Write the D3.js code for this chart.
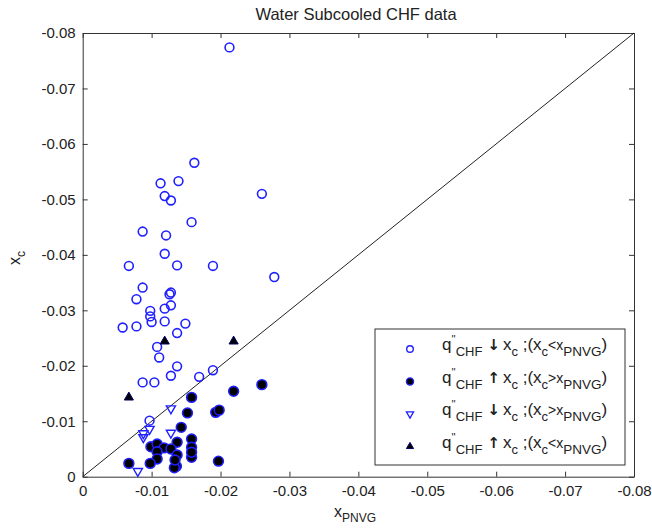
<!DOCTYPE html>
<html>
<head>
<meta charset="utf-8">
<script src="https://cdn.jsdelivr.net/npm/d3@7"></script>
<style>
body { margin:0; background:#fff; }
text { font-family: "Liberation Sans", Arial, sans-serif; fill:#222; }
</style>
</head>
<body>
<script>
// open circles: q"CHF down, xc < xPNVG
var openCircleX = [-0.0213,-0.0162,-0.0139,-0.0113,-0.0260,-0.0119,-0.0128,-0.0158,-0.0087,-0.0121,
                   -0.0119,-0.0067,-0.0137,-0.0189,-0.0278,-0.0087,-0.0128,-0.0126,-0.0078,-0.0128,
                   -0.0119,-0.0098,-0.0098,-0.0100,-0.0119,-0.0058,-0.0078,-0.0149,-0.0137,-0.0108,
                   -0.0111,-0.0137,-0.0128,-0.0169,-0.0189,-0.0087,-0.0104,-0.0097];
var openCircleY = [-0.0774,-0.0566,-0.0533,-0.0529,-0.0510,-0.0506,-0.0498,-0.0459,-0.0442,-0.0435,
                   -0.0402,-0.0380,-0.0381,-0.0380,-0.0360,-0.0341,-0.0332,-0.0329,-0.0320,-0.0309,
                   -0.0303,-0.0299,-0.0289,-0.0279,-0.0280,-0.0269,-0.0271,-0.0276,-0.0259,-0.0234,
                   -0.0215,-0.0199,-0.0182,-0.0180,-0.0192,-0.0170,-0.0170,-0.0101];

// filled circles: q"CHF up, xc > xPNVG
var filledCircleX = [-0.0158,-0.0219,-0.0260,-0.0152,-0.0193,-0.0198,-0.0143,-0.0158,-0.0137,-0.0099,
                     -0.0108,-0.0118,-0.0128,-0.0108,-0.0158,-0.0137,-0.0158,-0.0108,-0.0067,-0.0098,
                     -0.0136,-0.0133,-0.0197,-0.0158,-0.0134];
var filledCircleY = [-0.0143,-0.0154,-0.0166,-0.0115,-0.0116,-0.0120,-0.0089,-0.0068,-0.0062,-0.0054,
                     -0.0059,-0.0052,-0.0050,-0.0045,-0.0053,-0.0039,-0.0035,-0.0032,-0.0024,-0.0024,
                     -0.0019,-0.0016,-0.0028,-0.0044,-0.0030];

// open down triangles: q"CHF down, xc > xPNVG
var downTriX = [-0.0128,-0.0088,-0.0088,-0.0097,-0.0128,-0.0080];
var downTriY = [-0.0123,-0.0078,-0.0071,-0.0086,-0.0079,-0.0010];

// filled up triangles: q"CHF up, xc < xPNVG
var upTriX = [-0.0119,-0.0219,-0.0067];
var upTriY = [-0.0244,-0.0244,-0.0143];

var tickValues = [0,-0.01,-0.02,-0.03,-0.04,-0.05,-0.06,-0.07,-0.08];

var W = 652, H = 532;
var plotL = 82.7, plotR = 634, plotT = 33, plotB = 476.7;

var x = d3.scaleLinear().domain([0,-0.08]).range([plotL, plotR]);
var y = d3.scaleLinear().domain([0,-0.08]).range([plotB, plotT]);

var svg = d3.select("body").append("svg").attr("width",W).attr("height",H);

var fmt = function(d){ return d === 0 ? "0" : d.toFixed(2); };

function styleAxis(g){
    g.selectAll("path").attr("stroke","#333");
    g.selectAll("line").attr("stroke","#333");
    g.selectAll("text").attr("font-size","15px").attr("fill","#222")
        .attr("font-family","Liberation Sans, Arial, sans-serif");
}

svg.append("g").attr("transform","translate(0,"+plotB+")")
    .call(d3.axisBottom(x).tickValues(tickValues).tickFormat(fmt).tickSize(-5).tickSizeOuter(0).tickPadding(9))
    .call(styleAxis);
svg.append("g").attr("transform","translate(0,"+plotT+")")
    .call(d3.axisTop(x).tickValues(tickValues).tickFormat("").tickSize(-5).tickSizeOuter(0))
    .call(styleAxis);
svg.append("g").attr("transform","translate("+plotL+",0)")
    .call(d3.axisLeft(y).tickValues(tickValues).tickFormat(fmt).tickSize(-5).tickSizeOuter(0).tickPadding(7))
    .call(styleAxis);
svg.append("g").attr("transform","translate("+plotR+",0)")
    .call(d3.axisRight(y).tickValues(tickValues).tickFormat("").tickSize(-5).tickSizeOuter(0))
    .call(styleAxis);

// diagonal x_c = x_PNVG
svg.append("line")
    .attr("x1",x(0)).attr("y1",y(0)).attr("x2",x(-0.08)).attr("y2",y(-0.08))
    .attr("stroke","#222").attr("stroke-width",1);

var blue = "#2020ff";

function pts(xs, ys){ return xs.map(function(v,i){ return [v, ys[i]]; }); }

svg.append("g").selectAll("circle").data(pts(openCircleX, openCircleY)).enter().append("circle")
    .attr("cx",function(d){ return x(d[0]); })
    .attr("cy",function(d){ return y(d[1]); })
    .attr("r",4.4).attr("fill","none").attr("stroke",blue).attr("stroke-width",1.6);

svg.append("g").selectAll("circle").data(pts(filledCircleX, filledCircleY)).enter().append("circle")
    .attr("cx",function(d){ return x(d[0]); })
    .attr("cy",function(d){ return y(d[1]); })
    .attr("r",4.9).attr("fill","#000").attr("stroke",blue).attr("stroke-width",1.6);

var tri = d3.symbol().type(d3.symbolTriangle).size(36);

svg.append("g").selectAll("path").data(pts(downTriX, downTriY)).enter().append("path")
    .attr("d",tri)
    .attr("transform",function(d){ return "translate("+x(d[0])+","+y(d[1])+") rotate(180)"; })
    .attr("fill","none").attr("stroke",blue).attr("stroke-width",1.4);

svg.append("g").selectAll("path").data(pts(upTriX, upTriY)).enter().append("path")
    .attr("d",tri)
    .attr("transform",function(d){ return "translate("+x(d[0])+","+y(d[1])+")"; })
    .attr("fill","#000").attr("stroke","#000066").attr("stroke-width",1);

// title and axis labels
svg.append("text").attr("x",356).attr("y",20).attr("text-anchor","middle")
    .attr("font-size","16.5px").text("Water Subcooled CHF data");

var xl = svg.append("text").attr("x",334).attr("y",517).attr("font-size","16px");
xl.append("tspan").text("x");
xl.append("tspan").attr("dy",5).attr("font-size","12px").text("PNVG");

var yl = svg.append("text").attr("transform","translate(20,258) rotate(-90)").attr("text-anchor","middle").attr("font-size","16px");
yl.append("tspan").text("x");
yl.append("tspan").attr("dy",5).attr("font-size","12px").text("c");

// legend
var legend = svg.append("g");
legend.append("rect").attr("x",375).attr("y",329).attr("width",250).attr("height",136)
    .attr("fill","#fff").attr("stroke","#333").attr("stroke-width",1);

var legendArrows = ["\u2193","\u2191","\u2193","\u2191"];
var legendRel = ["<",">",">","<"];
var rowY = [349,381.5,414,446.5];

legend.append("circle").attr("cx",410).attr("cy",rowY[0]).attr("r",3.3)
    .attr("fill","none").attr("stroke",blue).attr("stroke-width",1.4);
legend.append("circle").attr("cx",410).attr("cy",rowY[1]).attr("r",3.6)
    .attr("fill","#000").attr("stroke",blue).attr("stroke-width",1.3);
var smallTri = d3.symbol().type(d3.symbolTriangle).size(22);
legend.append("path").attr("d",smallTri).attr("transform","translate(410,"+rowY[2]+") rotate(180)")
    .attr("fill","none").attr("stroke",blue).attr("stroke-width",1.3);
legend.append("path").attr("d",smallTri).attr("transform","translate(410,"+rowY[3]+")")
    .attr("fill","#000").attr("stroke","#000066").attr("stroke-width",1);

rowY.forEach(function(ry, i){
    var t = legend.append("text").attr("x",442).attr("y",ry+1).attr("font-size","17px");
    t.append("tspan").text("q");
    t.append("tspan").attr("dy",-7).attr("font-size","11px").text("''");
    t.append("tspan").attr("dy",13).attr("font-size","13px").text("CHF");
    t.append("tspan").attr("dy",-6).attr("dx",5).attr("font-size","15px")
        .attr("font-family","DejaVu Sans").attr("font-weight","bold").text(legendArrows[i]);
    t.append("tspan").attr("dx",3).text("x");
    t.append("tspan").attr("dy",6).attr("font-size","13px").text("c");
    t.append("tspan").attr("dy",-6).text(" ;(x");
    t.append("tspan").attr("dy",6).attr("font-size","13px").text("c");
    t.append("tspan").attr("dy",-6).attr("font-size","14px").text(legendRel[i] + "x");
    t.append("tspan").attr("dy",6).attr("font-size","13.5px").text("PNVG");
    t.append("tspan").attr("dy",-6).text(")");
});
</script>
</body>
</html>
